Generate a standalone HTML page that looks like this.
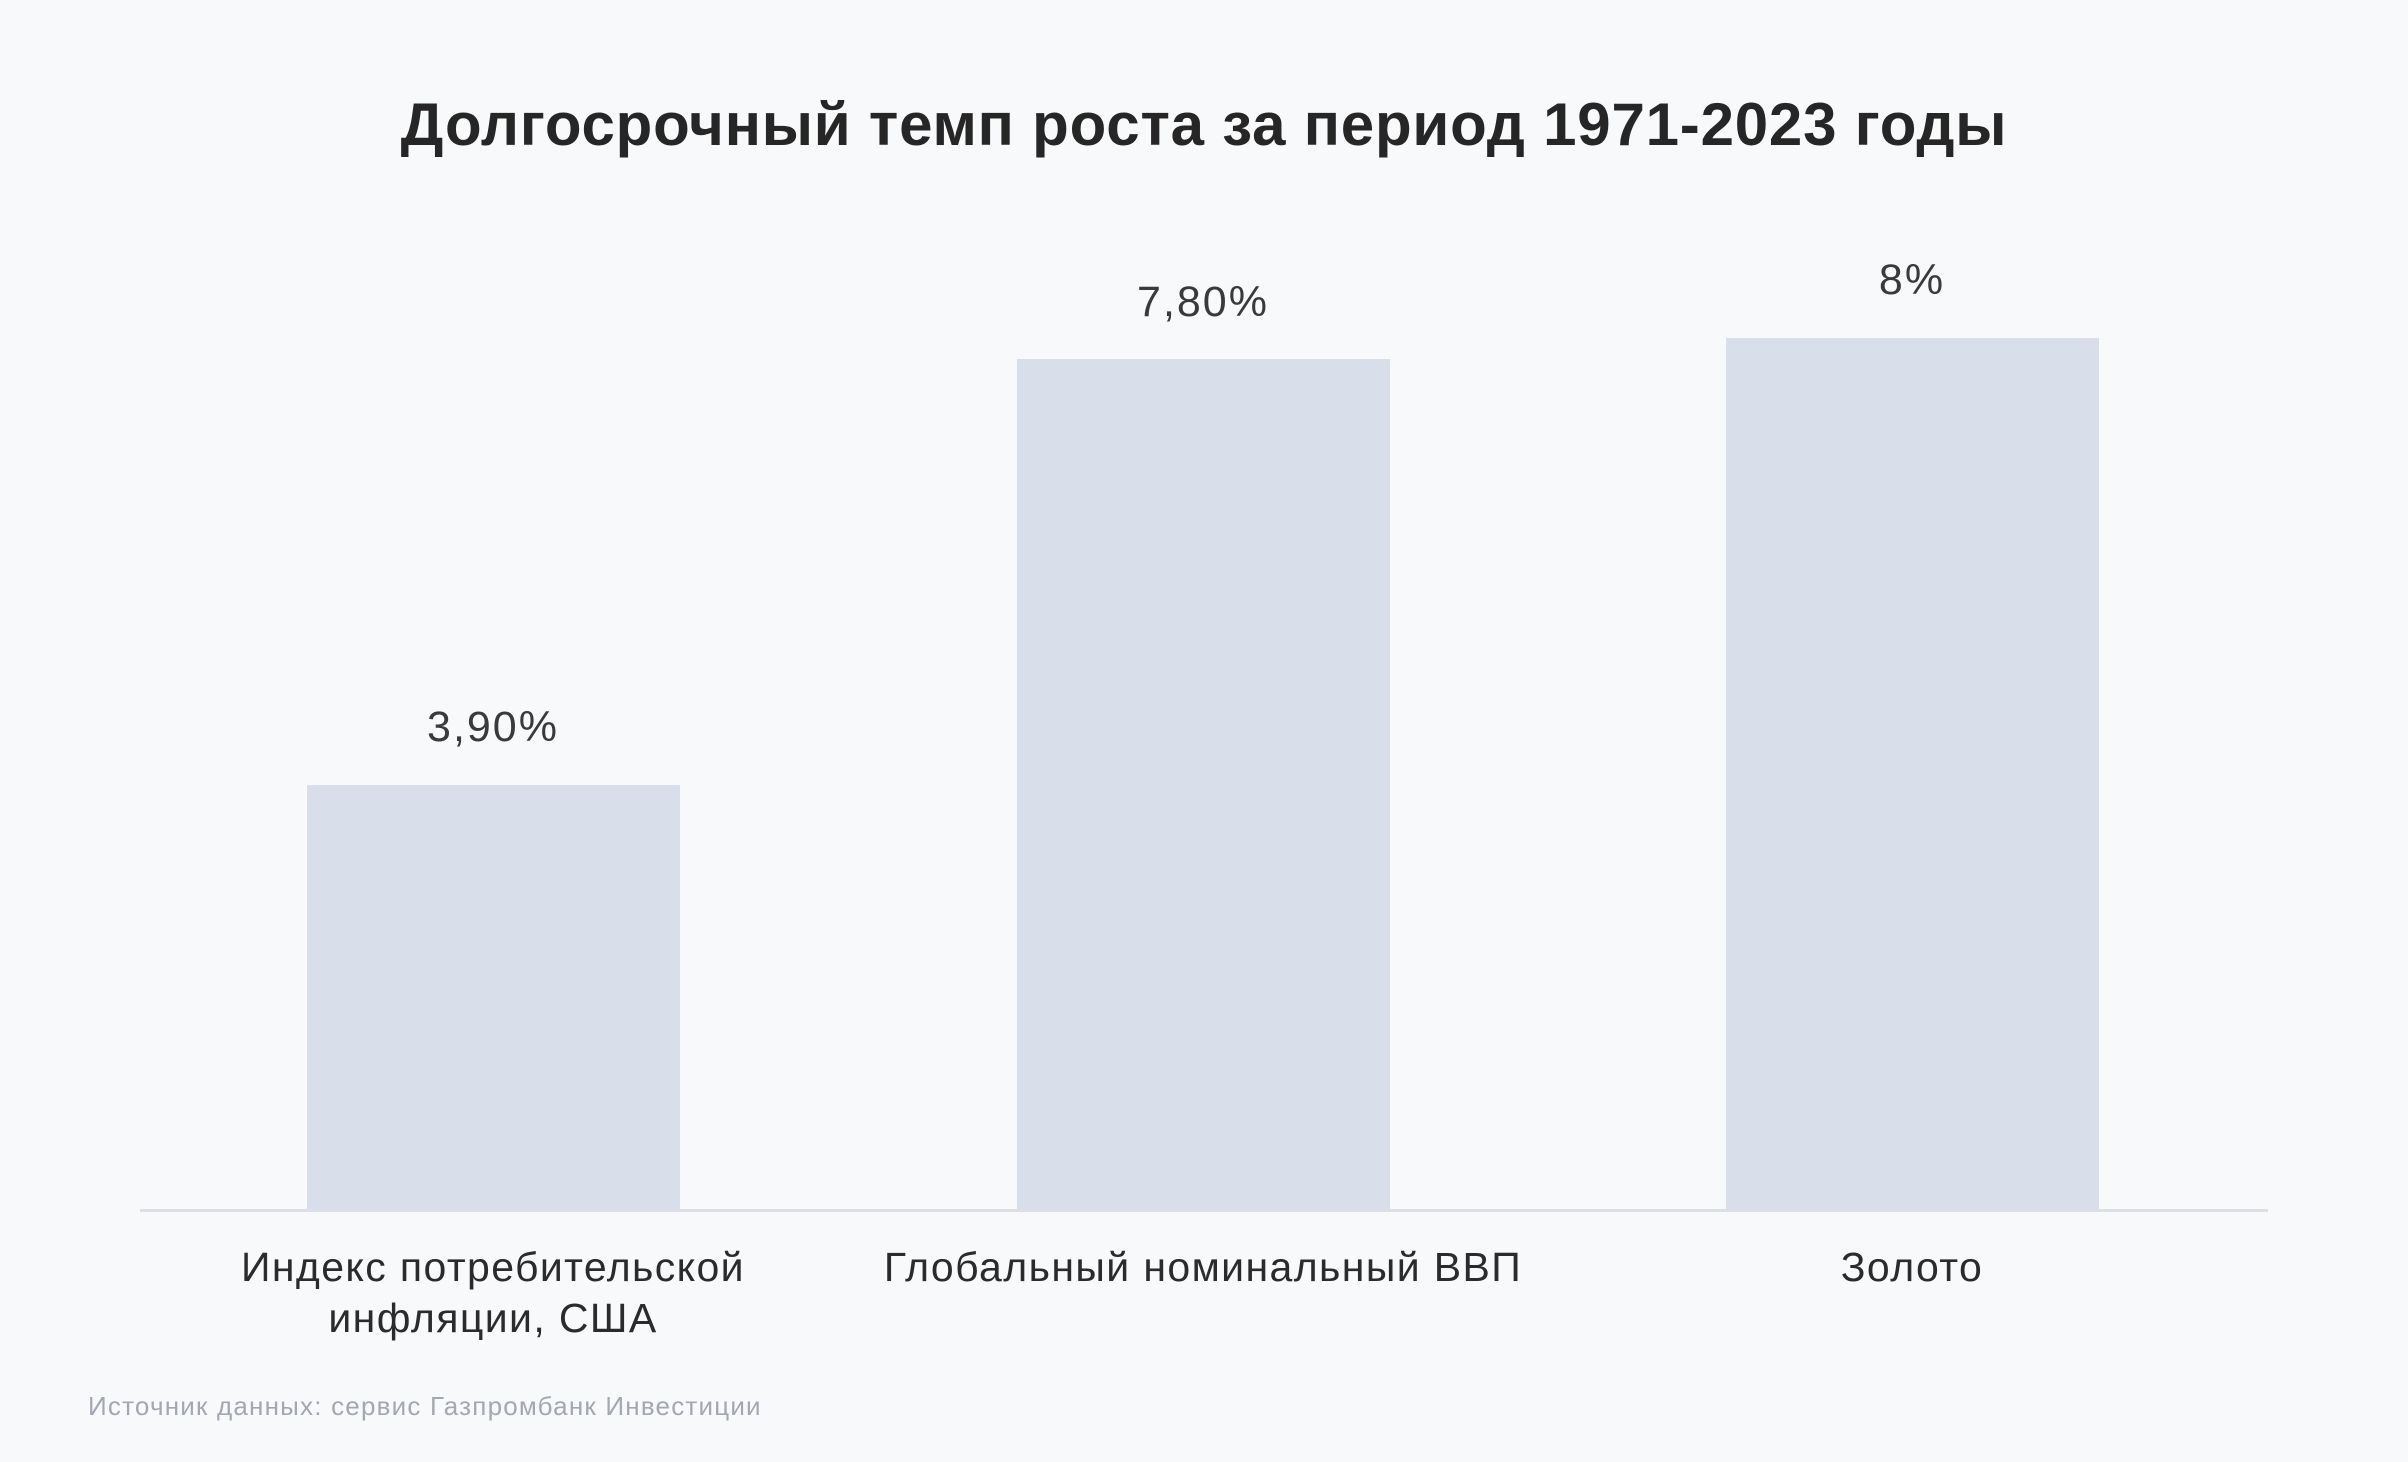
<!DOCTYPE html>
<html><head><meta charset="utf-8"><style>
html,body{margin:0;padding:0;}
body{width:2408px;height:1462px;background:#f8f9fb;position:relative;overflow:hidden;font-family:"Liberation Sans","DejaVu Sans",sans-serif;color:#2b2b2b;}
.t{position:absolute;left:0;width:2408px;text-align:center;top:90px;font-size:60px;font-weight:bold;color:#262626;letter-spacing:0.8px;}
.bar{position:absolute;background:#d8deea;}
.v{position:absolute;width:500px;text-align:center;font-size:43px;color:#3a3a3a;letter-spacing:2px;}
.c{position:absolute;width:700px;text-align:center;font-size:41px;line-height:51px;color:#2b2b2b;letter-spacing:1.4px;}
.axis{position:absolute;left:140px;width:2128px;top:1209px;height:3px;background:#dcdfe4;}
.s{position:absolute;left:88px;top:1391px;font-size:26px;color:#a3a8b0;letter-spacing:1.2px;}
</style></head><body>
<div class="t">Долгосрочный темп роста за период 1971-2023 годы</div>
<div class="bar" style="left:307px;width:373px;top:785px;height:425px"></div>
<div class="bar" style="left:1017px;width:373px;top:359px;height:851px"></div>
<div class="bar" style="left:1726px;width:373px;top:338px;height:872px"></div>
<div class="axis"></div>
<div class="v" style="left:243px;top:703px">3,90%</div>
<div class="v" style="left:953px;top:278px">7,80%</div>
<div class="v" style="left:1662px;top:256px">8%</div>
<div class="c" style="left:143px;top:1242px">Индекс потребительской<br>инфляции, США</div>
<div class="c" style="left:853px;top:1242px">Глобальный номинальный ВВП</div>
<div class="c" style="left:1562px;top:1242px">Золото</div>
<div class="s">Источник данных: сервис Газпромбанк Инвестиции</div>
</body></html>
